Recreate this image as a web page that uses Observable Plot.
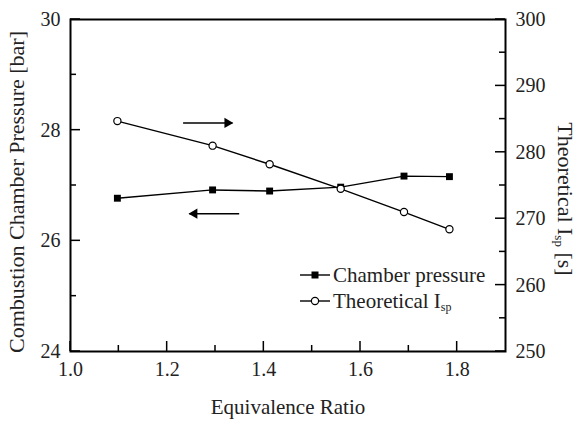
<!DOCTYPE html>
<html><head><meta charset="utf-8">
<script src="https://cdn.jsdelivr.net/npm/d3@7"></script>
<script src="https://cdn.jsdelivr.net/npm/@observablehq/plot@0.6"></script>
<style>body{margin:0;background:#fff}</style>
</head><body><div id="chart"></div>
<script>
// ---- data ----
const eqRatio = [1.097, 1.294, 1.412, 1.559, 1.690, 1.784];
const chamberPressure = [26.77, 26.92, 26.90, 26.97, 27.17, 27.16];   // bar
const theoreticalIsp = [284.7, 281.0, 278.2, 274.5, 271.0, 268.4];   // s
const xMajorTicks = [1.0, 1.2, 1.4, 1.6, 1.8];
const xMinorTicks = [1.1, 1.3, 1.5, 1.7];
const pMajorTicks = [24, 26, 28, 30];
const pMinorTicks = [25, 27, 29];
const ispMajorTicks = [250, 260, 270, 280, 290, 300];
const ispMinorTicks = [255, 265, 275, 285, 295];
// annotation arrows (x from, x to, pressure level)
const arrowX1 = [1.233, 1.349];
const arrowX2 = [1.335, 1.246];
const arrowY = [28.13, 26.49];

const pDomain = [24, 30], ispDomain = [250, 300], xDomain = [1.0, 1.9];
const ispToP = v => pDomain[0] + (v - ispDomain[0]) * (pDomain[1] - pDomain[0]) / (ispDomain[1] - ispDomain[0]);
const pToIsp = v => ispDomain[0] + (v - pDomain[0]) * (ispDomain[1] - ispDomain[0]) / (pDomain[1] - pDomain[0]);

const rows = eqRatio.map((x, i) => ({x, p: chamberPressure[i], isp: ispToP(theoreticalIsp[i])}));
const arrows = arrowX1.map((x1, i) => ({x1, x2: arrowX2[i], y: arrowY[i]}));
const rightArrows = arrows.filter(a => a.x2 > a.x1);
const leftArrows = arrows.filter(a => a.x2 < a.x1);

const W = 585, H = 425, mL = 70, mR = 80, mT = 19, mB = 74;
const font = "Liberation Serif, Times New Roman, serif";
const plot = Plot.plot({
  width: W, height: H,
  marginLeft: mL, marginRight: mR, marginTop: mT, marginBottom: mB,
  style: {fontFamily: font, fontSize: "20px", color: "#222", background: "#fff"},
  x: {domain: xDomain},
  y: {domain: pDomain},
  marks: [
    Plot.axisX(xMajorTicks, {tickSize: 0, tickPadding: 10, tickFormat: d => d.toFixed(1), label: null}),
    Plot.axisY(pMajorTicks, {anchor: "left", tickSize: 0, tickPadding: 10, tickFormat: d => String(d), label: null}),
    Plot.axisY(ispMajorTicks.map(ispToP), {anchor: "right", tickSize: 0, tickPadding: 10, tickFormat: d => String(Math.round(pToIsp(d))), label: null}),
    Plot.frame({stroke: "#000", strokeWidth: 2}),
    Plot.line(rows, {x: "x", y: "p", stroke: "#000", strokeWidth: 1.4}),
    Plot.line(rows, {x: "x", y: "isp", stroke: "#000", strokeWidth: 1.4}),
    Plot.dot(rows, {x: "x", y: "p", symbol: "square", r: 3.9, fill: "#000", stroke: "none"}),
    Plot.dot(rows, {x: "x", y: "isp", symbol: "circle", r: 3.6, fill: "#fff", stroke: "#000", strokeWidth: 1.2}),
    Plot.link(arrows, {x1: "x1", x2: "x2", y1: "y", y2: "y", stroke: "#000", strokeWidth: 1.6}),
    Plot.dot(rightArrows, {x: "x2", y: "y", dx: -5, symbol: "triangle", rotate: 90, r: 3.8, fill: "#000", stroke: "none"}),
    Plot.dot(leftArrows, {x: "x2", y: "y", dx: 5, symbol: "triangle", rotate: -90, r: 3.8, fill: "#000", stroke: "none"})
  ]
});
document.getElementById("chart").appendChild(plot);

const svg = d3.select(plot);
const sx = plot.scale("x"), sy = plot.scale("y");
const x0 = sx.apply(xDomain[0]), x1 = sx.apply(xDomain[1]), yB = sy.apply(pDomain[0]);
// inward ticks, positioned with Plot's own scales
const tg = svg.append("g").attr("stroke", "#000").attr("stroke-width", 1.5);
const addTicks = (vals, side, len) => vals.forEach(v => {
  if (side === "bottom") { const x = sx.apply(v); tg.append("line").attr("x1", x).attr("x2", x).attr("y1", yB).attr("y2", yB - len); }
  else { const y = sy.apply(v); const xa = side === "left" ? x0 : x1, s = side === "left" ? 1 : -1;
    tg.append("line").attr("x1", xa).attr("x2", xa + s * len).attr("y1", y).attr("y2", y); }
});
addTicks(xMajorTicks, "bottom", 10);
addTicks(xMinorTicks, "bottom", 6);
addTicks(pMajorTicks, "left", 10);
addTicks(pMinorTicks, "left", 6);
addTicks(ispMajorTicks.map(ispToP), "right", 10);
addTicks(ispMinorTicks.map(ispToP), "right", 6);

const txt = (sel, fs) => sel.attr("font-family", font).attr("font-size", fs).attr("fill", "#222");
// axis titles
txt(svg.append("text"), 21).attr("x", 288).attr("y", 414).attr("text-anchor", "middle").text("Equivalence Ratio");
txt(svg.append("text"), 22).attr("transform", "translate(24,192) rotate(-90)").attr("text-anchor", "middle").text("Combustion Chamber Pressure [bar]");
const rt = txt(svg.append("text"), 22).attr("transform", "translate(558,199) rotate(90)").attr("text-anchor", "middle");
rt.append("tspan").text("Theoretical I");
rt.append("tspan").attr("font-size", 13).attr("dy", 3).text("sp");
rt.append("tspan").attr("dy", -3).text(" [s]");

// legend
const lg = svg.append("g");
const items = [{label: "Chamber pressure", sym: "square"}, {label: "Theoretical I", sub: "sp", sym: "circle"}];
items.forEach((it, i) => {
  const y = 275 + i * 26;
  lg.append("line").attr("x1", 300).attr("x2", 330).attr("y1", y).attr("y2", y).attr("stroke", "#000").attr("stroke-width", 1.4);
  if (it.sym === "square") lg.append("rect").attr("x", 311.5).attr("y", y - 3.5).attr("width", 7).attr("height", 7).attr("fill", "#000");
  else lg.append("circle").attr("cx", 315).attr("cy", y).attr("r", 3.6).attr("fill", "#fff").attr("stroke", "#000").attr("stroke-width", 1.2);
  const t = txt(lg.append("text"), 21).attr("x", 333).attr("y", y).attr("dy", "0.35em").attr("text-anchor", "start");
  t.append("tspan").text(it.label);
  if (it.sub) t.append("tspan").attr("font-size", 12).attr("dy", 3).text(it.sub);
});
</script>
</body></html>
